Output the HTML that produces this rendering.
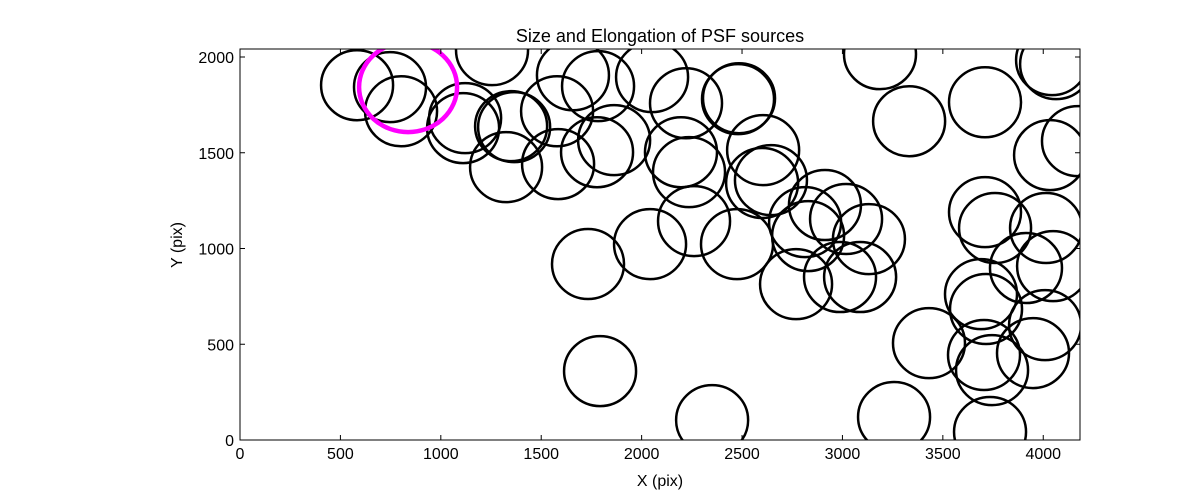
<!DOCTYPE html>
<html><head><meta charset="utf-8"><style>
body{margin:0;background:#fff;}
text{font-family:"Liberation Sans",sans-serif;fill:#000;}
</style></head><body>
<svg id="chart" width="1200" height="490">
<defs><clipPath id="clip"><rect x="240" y="49" width="840" height="391"/></clipPath></defs>
<rect width="1200" height="490" fill="#fff"/>
<g id="marks" clip-path="url(#clip)"></g>
<rect x="240" y="49" width="840" height="391" fill="none" stroke="#000" stroke-width="1"/>
<g id="axes"></g>
<text x="660" y="42" text-anchor="middle" font-size="18">Size and Elongation of PSF sources</text>
<text x="660" y="486" text-anchor="middle" font-size="16">X (pix)</text>
<text x="182" y="245" text-anchor="middle" font-size="16" transform="rotate(-90 182 245)">Y (pix)</text>
</svg>
<script>
const xs=[583,747,802,1121,1111,1255,1350,1365,1325,1579,1584,1658,1783,1778,1863,2052,2221,2196,2236,2042,2261,2480,2485,2605,2600,2644,2475,1733,1793,2351,2814,2829,2913,3018,3132,2769,2988,3088,3187,3332,3431,3257,3710,3710,3760,3690,3715,3705,3745,3735,3914,4014,4049,4044,4064,4034,4173,4009,3949];
const ys=[1853,1843,1717,1681,1629,2036,1639,1634,1425,1717,1441,1905,1848,1503,1566,1895,1759,1503,1399,1023,1143,1780,1785,1514,1342,1357,1023,919,360,104,1138,1065,1227,1154,1049,814,851,851,2015,1665,506,120,1764,1190,1107,762,684,444,365,42,898,1107,908,1984,1963,1488,1561,600,454];
const highlightX=[837];
const highlightY=[1843];
const xTicks=[0,500,1000,1500,2000,2500,3000,3500,4000];
const yTicks=[0,500,1000,1500,2000];
const sx=v=>240+v*840/4183, sy=v=>440-v*391/2042;
const NS="http://www.w3.org/2000/svg";
const marks=document.getElementById('marks'), axes=document.getElementById('axes');
function ell(x,y,rx,ry,col,w){const e=document.createElementNS(NS,'ellipse');
e.setAttribute('cx',sx(x));e.setAttribute('cy',sy(y));e.setAttribute('rx',rx);e.setAttribute('ry',ry);
e.setAttribute('fill','none');e.setAttribute('stroke',col);e.setAttribute('stroke-width',w);return e;}
xs.forEach((x,i)=>{const e=ell(x,ys[i],36,35,'#000',2.5);


marks.appendChild(e);});
highlightX.forEach((x,i)=>{const e=ell(x,highlightY[i],49,45,'#ff00ff',4.5);


marks.appendChild(e);});
xTicks.forEach(t=>{const x=sx(t);
const l=document.createElementNS(NS,'path');l.setAttribute('d',`M${x} 440v-5M${x} 49v5`);l.setAttribute('stroke','#000');


axes.appendChild(l);
const tx=document.createElementNS(NS,'text');tx.setAttribute('x',x);tx.setAttribute('y',459);tx.setAttribute('text-anchor','middle');tx.setAttribute('font-size','16');tx.textContent=t;


axes.appendChild(tx);});
yTicks.forEach(t=>{const y=sy(t);
const l=document.createElementNS(NS,'path');l.setAttribute('d',`M240 ${y}h5M1080 ${y}h-5`);l.setAttribute('stroke','#000');


axes.appendChild(l);
const tx=document.createElementNS(NS,'text');tx.setAttribute('x',234);tx.setAttribute('y',y+6);tx.setAttribute('text-anchor','end');tx.setAttribute('font-size','16');tx.textContent=t;


axes.appendChild(tx);});
</script>
</body></html>
